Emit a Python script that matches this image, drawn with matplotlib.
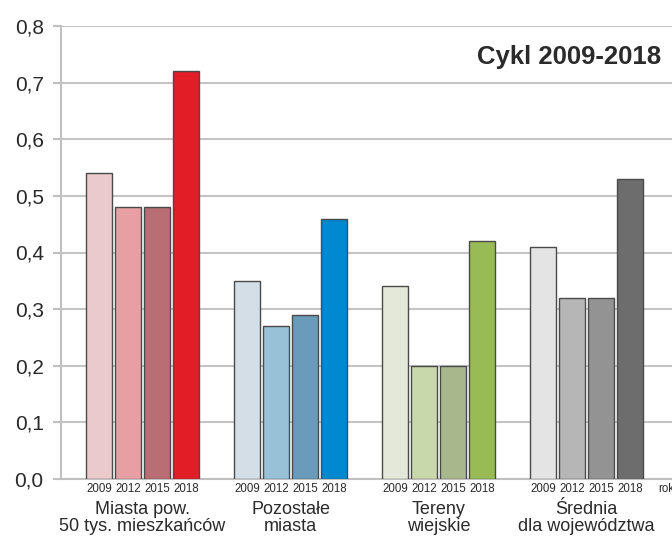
import numpy as np
import matplotlib.pyplot as plt

# Wartości wskaźnika dla grup i lat
lata = ["2009", "2012", "2015", "2018"]
grupy = ["Miasta pow.\n50 tys. mieszkańców", "Pozostałe\nmiasta",
         "Tereny\nwiejskie", "Średnia\ndla województwa"]
miasta_duze = [0.54, 0.48, 0.48, 0.72]
miasta_pozostale = [0.35, 0.27, 0.29, 0.46]
tereny_wiejskie = [0.34, 0.20, 0.20, 0.42]
srednia = [0.41, 0.32, 0.32, 0.53]
wartosci = [miasta_duze, miasta_pozostale, tereny_wiejskie, srednia]

kolory = [
    ["#ebcacc", "#e89fa3", "#b86e72", "#e21d25"],
    ["#d3dee7", "#98c0d7", "#6a9bbb", "#0088d1"],
    ["#e3e8d8", "#c9d8aa", "#a9b78c", "#99bb56"],
    ["#e4e4e4", "#b6b6b6", "#939393", "#6d6d6d"],
]

plt.rcParams['font.family'] = ['Liberation Sans', 'DejaVu Sans']

fig = plt.figure(figsize=(6.72, 5.38), dpi=100)
ax = fig.add_axes([61 / 672, 59 / 538, 611 / 672, 453 / 538])

krok = 29 / 148
szer = 26 / 148
offs = (np.arange(4) - 1.5) * krok

for g, (vals, cols) in enumerate(zip(wartosci, kolory)):
    x = g + offs
    ax.bar(x, vals, width=szer, color=cols, edgecolor="#4a4a4a",
           linewidth=1.0, zorder=3)
    for xi, rok in zip(x, lata):
        ax.text(xi, -0.007, rok, ha="center", va="top", fontsize=8.3,
                color="#2a2a2a")
    ax.text(g, -0.039, grupy[g], ha="center", va="top", fontsize=13,
            color="#2a2a2a", linespacing=1.0)

ax.text(3.485, -0.007, "rok", ha="left", va="top", fontsize=8.3,
        color="#2a2a2a", clip_on=False)

ax.set_xlim(-0.551, 3.578)
ax.set_ylim(0, 0.8)
ax.set_yticks(np.arange(0, 0.81, 0.1))
ax.set_yticklabels([f"{v:.1f}".replace(".", ",") for v in np.arange(0, 0.81, 0.1)],
                   fontsize=15, color="#2a2a2a")
ax.set_xticks([])
ax.tick_params(axis="y", length=6, width=1.5, color="#c0c0c0", pad=6.5)
ax.grid(axis="y", color="#c4c4c4", linewidth=1.5, zorder=0)

for s in ["top", "right", "bottom"]:
    ax.spines[s].set_visible(False)
ax.spines["left"].set_color("#c0c0c0")
ax.spines["left"].set_linewidth(1.5)
ax.axhline(0, color="#c0c0c0", linewidth=1.5, zorder=2, clip_on=False)

ax.text(3.505, 0.745, "Cykl 2009-2018", ha="right", va="center",
        fontsize=18.5, fontweight="bold", color="#2a2a2a")

fig.savefig("out.png", dpi=100)
